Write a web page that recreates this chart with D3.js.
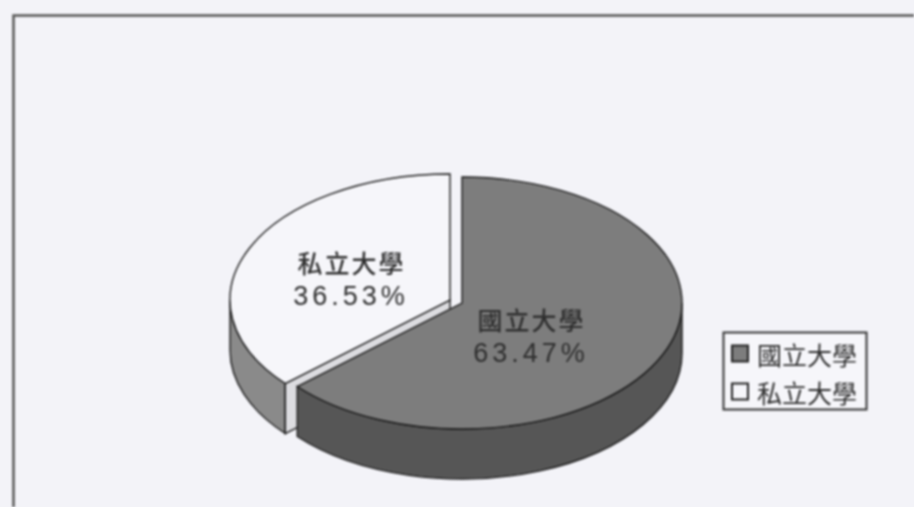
<!DOCTYPE html>
<html>
<head>
<meta charset="utf-8">
<script src="https://cdn.jsdelivr.net/npm/d3@7"></script>
<style>
html,body{margin:0;padding:0;background:#f3f3f8;overflow:hidden}
svg{display:block;filter:blur(0.9px)}
</style>
</head>
<body>
<svg id="chart" width="914" height="507"></svg>
<script>
const categories = ["國立大學", "私立大學"];
const shares = [63.47, 36.53];
const topColors = ["#7d7d7d", "#f6f6fa"];
const sideColors = ["#565656", "#8a8a8a"];
const centers = [[462, 303], [450, 300]];
const labelPos = [[531.5, 319, 531, 352.5], [351.5, 262, 351, 295.5]];
const rx = 220, ry = 126, depth = 50;

const svg = d3.select("#chart");
const cjk = "'Noto Sans CJK TC','Noto Sans CJK SC',sans-serif";
const ink = "#2e2e2e";
const edge = "#1c1c1c";

// outer frame (runs off the right and bottom of the picture)
svg.append("path").attr("d", "M13.5,507V15.5H914")
  .attr("fill", "none").attr("stroke", "#555").attr("stroke-width", 2.5);

const slices = d3.pie().sort(null).value(d => d)(shares);
const arc = d3.arc().innerRadius(0).outerRadius(rx);
const px = (c, a) => c[0] + rx * Math.sin(a);
const py = (c, a) => c[1] - ry * Math.cos(a);

// draw the private slice first: the public one overlaps its cut face
[1, 0].forEach(i => {
  const s = slices[i], c = centers[i];
  const g = svg.append("g");
  const a0 = Math.max(s.startAngle, Math.PI / 2);
  const a1 = Math.min(s.endAngle, 3 * Math.PI / 2);
  // outer side wall, visible on the front half of the ellipse
  g.append("path")
    .attr("d", `M${px(c,a0)},${py(c,a0)}A${rx},${ry} 0 0 1 ${px(c,a1)},${py(c,a1)}` +
               `V${py(c,a1)+depth}A${rx},${ry} 0 0 0 ${px(c,a0)},${py(c,a0)+depth}Z`)
    .attr("fill", sideColors[i]).attr("stroke", edge).attr("stroke-width", 1.4);
  // the private slice's radial cut face shows in the gap between the slices
  if (i === 1) {
    const ae = s.startAngle;
    g.append("path")
      .attr("d", `M${c[0]},${c[1]}L${px(c,ae)},${py(c,ae)}V${py(c,ae)+depth}L${c[0]},${c[1]+depth}Z`)
      .attr("fill", "#dcdce0").attr("stroke", edge).attr("stroke-width", 1.4);
  }
  // top face: d3.arc flattened into an ellipse
  g.append("path")
    .attr("d", arc(s))
    .attr("transform", `translate(${c[0]},${c[1]}) scale(1,${ry / rx})`)
    .attr("fill", topColors[i]).attr("stroke", edge).attr("stroke-width", 1.4)
    .attr("vector-effect", "non-scaling-stroke");
});

// slice labels
categories.forEach((name, i) => {
  const p = labelPos[i];
  svg.append("text").attr("x", p[0]).attr("y", p[1]).attr("text-anchor", "middle")
    .attr("dominant-baseline", "central").attr("font-family", cjk).attr("font-size", 25)
    .attr("font-weight", 500).attr("letter-spacing", 2).attr("fill", ink).text(name);
  svg.append("text").attr("x", p[2]).attr("y", p[3]).attr("text-anchor", "middle")
    .attr("dominant-baseline", "central").attr("font-family", "'Liberation Sans',sans-serif")
    .attr("font-size", 27).attr("letter-spacing", 4).attr("fill", ink)
    .text(shares[i].toFixed(2) + "%");
});

// legend
svg.append("rect").attr("x", 723.5).attr("y", 332.5).attr("width", 143).attr("height", 77)
  .attr("fill", "#f6f6fa").attr("stroke", "#333").attr("stroke-width", 2);
const legendY = d3.scalePoint().domain(categories).range([354, 392]);
categories.forEach((name, i) => {
  const y = legendY(name);
  svg.append("rect").attr("x", 732).attr("y", y - 8.5).attr("width", 16).attr("height", 16)
    .attr("fill", topColors[i]).attr("stroke", "#222").attr("stroke-width", 2);
  svg.append("text").attr("x", 757).attr("y", y).attr("dominant-baseline", "central")
    .attr("font-family", cjk).attr("font-size", 25).attr("fill", ink).text(name);
});
</script>
</body>
</html>
